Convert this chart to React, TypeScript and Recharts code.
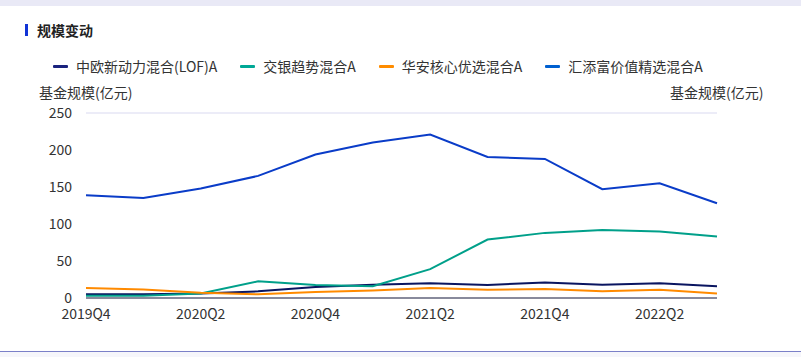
import React from "react";
import { LineChart, Line, XAxis, YAxis, CartesianGrid } from "recharts";

const categories = ["2019Q4","2020Q1","2020Q2","2020Q3","2020Q4","2021Q1","2021Q2","2021Q3","2021Q4","2022Q1","2022Q2","2022Q3"];
const zhongou = [5, 5, 6, 9, 15, 18, 20, 17.6, 21, 18, 20, 16];
const jiaoyin = [3, 3, 6, 22.5, 17.6, 16, 39, 79, 88, 92, 90, 83];
const huaan = [13.5, 11.5, 7, 5, 8, 10, 13.5, 11, 12, 9, 11, 6];
const huitianfu = [139, 135, 148, 165, 194, 210, 221, 190.5, 188, 147, 155, 128];
const yTicks = [0, 50, 100, 150, 200, 250];

const seriesNames = ["中欧新动力混合(LOF)A", "交银趋势混合A", "华安核心优选混合A", "汇添富价值精选混合A"];
const seriesKeys = ["zhongou", "jiaoyin", "huaan", "huitianfu"];
const lineColors = ["#0a1560", "#00a08a", "#ff8a00", "#0a3cc8"];
const legendColors = ["#1a237e", "#00a896", "#ff8c00", "#0060d0"];

const data = categories.map((c, i) => ({
  name: c,
  zhongou: zhongou[i],
  jiaoyin: jiaoyin[i],
  huaan: huaan[i],
  huitianfu: huitianfu[i],
}));

const FONT = '"Noto Sans CJK SC", "Noto Sans", sans-serif';

export default function App() {
  return (
    <div style={{ position: "absolute", left: 0, top: 0, width: 801, height: 357, background: "#fff", overflow: "hidden", fontFamily: FONT }}>
      <div style={{ position: "absolute", left: 0, top: 0, width: 801, height: 6, background: "#e9e9f6" }} />
      <div style={{ position: "absolute", left: 25, top: 24, width: 3, height: 12, background: "#1133d6" }} />
      <div style={{ position: "absolute", left: 37, top: 20, fontSize: 14, fontWeight: 700, color: "#222", lineHeight: "20px" }}>规模变动</div>
      <div style={{ position: "absolute", left: 53, top: 56, display: "flex", alignItems: "center", fontSize: 14, color: "#333", lineHeight: "20px" }}>
        {seriesNames.map((n, i) => (
          <div key={n} style={{ display: "flex", alignItems: "center", marginRight: 23 }}>
            <div style={{ width: 15, height: 3, background: legendColors[i], borderRadius: 1, marginRight: 8 }} />
            <span>{n}</span>
          </div>
        ))}
      </div>
      <div style={{ position: "absolute", left: 39, top: 82, fontSize: 14, color: "#333", lineHeight: "20px" }}>基金规模(亿元)</div>
      <div style={{ position: "absolute", left: 670, top: 82, fontSize: 14, color: "#333", lineHeight: "20px" }}>基金规模(亿元)</div>
      <div style={{ position: "absolute", left: 0, top: 351, width: 801, height: 1, background: "#7b80c8" }} />
      <div style={{ position: "absolute", left: 0, top: 352, width: 801, height: 5, background: "#f6f6fb" }} />
      <div style={{ position: "absolute", left: 0, top: 0 }}>
        <LineChart width={801} height={357} data={data} margin={{ top: 113, left: 36, right: 34, bottom: 29 }}>
          <CartesianGrid vertical={false} stroke="#d9d9f0" />
          <XAxis
            dataKey="name"
            interval={1}
            tickLine={false}
            axisLine={{ stroke: "#888a9c", strokeWidth: 2 }}
            tick={{ fill: "#333", fontSize: 14, fontFamily: FONT }}
            tickMargin={5}
            height={30}
          />
          <YAxis
            yAxisId="left"
            orientation="left"
            domain={[0, 250]}
            ticks={yTicks}
            width={50}
            axisLine={false}
            tickLine={false}
            tick={{ fill: "#333", fontSize: 14, fontFamily: FONT }}
            tickMargin={8}
          />
          <YAxis
            yAxisId="right"
            orientation="right"
            domain={[0, 250]}
            ticks={yTicks}
            width={50}
            axisLine={false}
            tickLine={false}
            tick={{ fill: "#333", fontSize: 14, fontFamily: FONT }}
            tickMargin={8}
          />
          {seriesKeys.map((k, i) => (
            <Line
              key={k}
              yAxisId="left"
              type="linear"
              dataKey={k}
              name={seriesNames[i]}
              stroke={lineColors[i]}
              strokeWidth={2}
              dot={false}
              isAnimationActive={false}
            />
          ))}
        </LineChart>
      </div>
    </div>
  );
}
